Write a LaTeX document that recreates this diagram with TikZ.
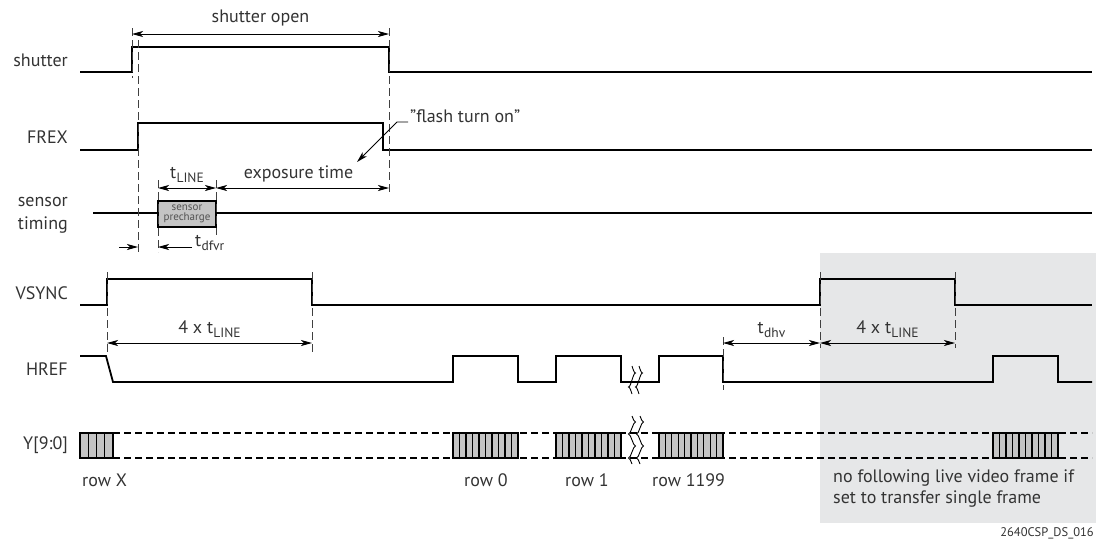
\documentclass[tikz,border=0pt]{standalone}
\usepackage{fontspec}
\setmainfont{PT Sans}
\usetikzlibrary{positioning, arrows.meta}
\definecolor{ink}{HTML}{333333}
\definecolor{bggray}{HTML}{E6E7E8}
\definecolor{cellgray}{HTML}{C4C4C4}
\newcommand{\tsub}[1]{t\kern0.3pt\raisebox{-0.45ex}{\fontsize{13.5}{14}\selectfont #1}}

\begin{document}
\begin{tikzpicture}[x=1pt,y=-1pt,>={Stealth[length=11pt,width=6pt,inset=3pt]},
    font=\fontsize{18}{21}\selectfont,
    every node/.style={text=ink},
    sig/.style={line width=1.8pt},
    bus/.style={line width=1.6pt,dash pattern=on 7pt off 4pt},
    guide/.style={line width=0.8pt,dash pattern=on 8pt off 4pt,draw=black!75},
    dim/.style={<->,line width=0.9pt},
    brk/.style={line width=0.9pt},
    signame/.style={anchor=east,inner sep=0pt},
    rowcells/.style={fill=cellgray,line width=1.6pt}]

  \useasboundingbox (0,0) rectangle (1096,542);
  \fill[bggray] (820,253) rectangle (1096,523);

  % signal names
  \node[signame] (shutter) at (68,60) {shutter};
  \node[signame] (frex) at (68,137) {FREX};
  \node[signame,align=right,font=\fontsize{18}{23}\selectfont] (sensor) at (68,215) {sensor\\timing};
  \node[signame] (vsync) at (68,293) {VSYNC};
  \node[signame] (href) at (68,369) {HREF};
  \node[signame] (ydata) at (68,445) {Y[9:0]};

  % waveforms
  \draw[sig] (80,72) -- (132,72) -- (132,47) -- (389,47) -- (389,72) -- (1092,72);
  \draw[sig] (80,150) -- (138,150) -- (138,123) -- (383,123) -- (383,150) -- (1092,150);
  \draw[sig] (93,213) -- (1092,213);
  \draw[sig,fill=cellgray] (158,201) rectangle (216,227);
  \node[align=center,text=black!68,font=\fontsize{11}{10.5}\selectfont,inner sep=0pt] (precharge) at (187,214) {sensor\\precharge};
  \draw[sig] (80,305) -- (107,305) -- (107,279) -- (312,279) -- (312,305) -- (820,305)
    -- (820,279) -- (955,279) -- (955,305) -- (1092,305);
  \draw[sig] (80,356) -- (106,356) -- (113,382) -- (453,382) -- (453,356) -- (518,356)
    -- (518,382) -- (556,382) -- (556,356) -- (621,356) -- (621,382) -- (659,382)
    -- (659,356) -- (723,356) -- (723,382) -- (993,382) -- (993,356) -- (1058,356)
    -- (1058,382) -- (1092,382);

  % data bus
  \draw[bus] (113,433) -- (1092,433);
  \draw[bus] (113,458) -- (1092,458);
  \foreach \a/\b/\n in {80/113/4, 453/518/10, 556/621/10, 659/723/10, 993/1058/10} {
    \draw[rowcells] (\a,433) rectangle (\b,458);
    \pgfmathtruncatemacro{\m}{\n-1}
    \foreach \k in {1,...,\m}
      \draw[line width=1.2pt] ({\a+\k*(\b-\a)/\n},433) -- ({\a+\k*(\b-\a)/\n},458);
  }

  % breaks
  \foreach \x in {632,639} {
    \draw[brk] (\x,366) sin ++(3.5,7) cos ++(-3.5,7) sin ++(-3.5,7) cos ++(3.5,7);
  }
  \foreach \x in {632,640} {
    \draw[brk] (\x,416) sin ++(3.5,6) cos ++(-3.5,6) sin ++(-3.5,6) cos ++(3.5,6)
      sin ++(3.5,6) cos ++(-3.5,6) sin ++(-3.5,6) cos ++(3.5,6);
  }

  % guide lines
  \draw[guide] (132,28) -- (132,78);
  \draw[guide] (138,40) -- (138,252);
  \draw[guide] (389,28) -- (389,195);
  \draw[guide] (158,180) -- (158,252);
  \draw[guide] (216,180) -- (216,235);
  \draw[guide] (107,272) -- (107,352);
  \draw[guide] (312,272) -- (312,352);
  \draw[guide] (723,337) -- (723,390);
  \draw[guide] (820,272) -- (820,348);
  \draw[guide] (955,272) -- (955,348);

  % dimensions
  \coordinate (openL) at (132,34);
  \coordinate (openR) at (389,34);
  \coordinate (lineL) at (158,188);
  \coordinate (lineR) at (216,188);
  \coordinate (expR) at (389,188);
  \coordinate (dfvrA) at (192,247);
  \coordinate (dfvrB) at (158,247);
  \coordinate (frexA) at (119,247);
  \coordinate (frexB) at (138,247);
  \coordinate (vsA) at (107,343);
  \coordinate (vsB) at (312,343);
  \coordinate (dhvA) at (723,343);
  \coordinate (dhvB) at (820,343);
  \coordinate (vsC) at (955,343);

  \draw[dim] (openL) -- (openR) node[midway,above=4pt] (openlbl) {shutter open};
  \draw[dim] (lineL) -- (lineR) node[midway,above=2pt] (tline) {\tsub{LINE}};
  \draw[dim] (lineR) -- (expR) node[midway,above=2pt,xshift=-4pt] (exptime) {exposure time};
  \draw[->,line width=0.9pt] (dfvrA) -- (dfvrB);
  \node[anchor=west,inner sep=1pt] (tdfvr) at (194,243) {\tsub{dfvr}};
  \draw[->,line width=0.9pt] (frexA) -- (frexB);
  \draw[dim] (vsA) -- (vsB) node[midway,above=2pt] (vslbl) {4 x \tsub{LINE}};
  \draw[dim] (dhvA) -- (dhvB) node[midway,above=2pt] (tdhv) {\tsub{dhv}};
  \draw[dim] (dhvB) -- (vsC) node[midway,above=2pt] (vslbl2) {4 x \tsub{LINE}};

  % flash note
  \node[anchor=west,inner sep=0pt] (flash) at (410,116) {\symbol{34}flash turn on\symbol{34}};
  \coordinate (flashK) at (397,122);
  \draw[->,line width=0.9pt] (flash.west |- flashK) ++(-2,0) -- (flashK) -- (357,162);

  % row labels
  \node[anchor=west,inner sep=0pt] (rowx) at (82,480) {row X};
  \node[anchor=west,inner sep=0pt] (row0) at (464,480) {row 0};
  \node[anchor=west,inner sep=0pt] (row1) at (565,480) {row 1};
  \node[anchor=west,inner sep=0pt] (rowlast) at (652,480) {row 1199};
  \node[anchor=north west,align=left,inner sep=0pt,font=\fontsize{18}{21}\selectfont] (note) at (833,470)
    {no following live video frame if\\set to transfer single frame};
  \node[anchor=east,inner sep=0pt,font=\fontsize{12.5}{13}\selectfont] (docid) at (1094,533) {2640CSP\_DS\_016};
\end{tikzpicture}
\end{document}
